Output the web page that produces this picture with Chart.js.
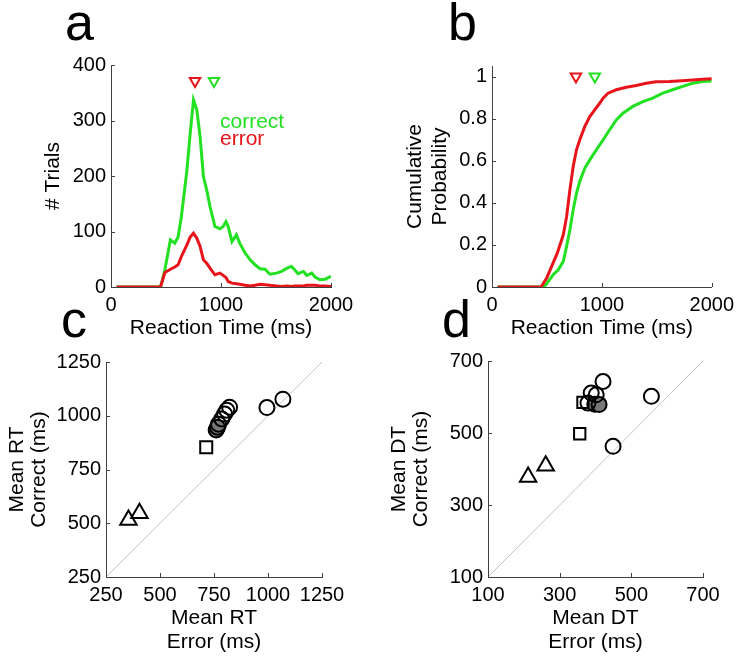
<!DOCTYPE html>
<html>
<head>
<meta charset="utf-8">
<script src="https://cdn.jsdelivr.net/npm/chart.js@4.4.1/dist/chart.umd.min.js"></script>
<style>
  body { margin: 0; background: #fff; }
  #fig { position: relative; width: 740px; height: 658px; overflow: hidden; font-family: 'Liberation Sans', Arial, sans-serif; }
  #fig canvas { position: absolute; }
  .panel { position: absolute; font-size: 52px; line-height: 52px; color: #000; }
  .key { position: absolute; font-size: 21px; line-height: 21px; }
</style>
</head>
<body>
<div id="fig">
  <canvas id="histChart" width="360" height="310" style="left:0;top:40px"></canvas>
  <canvas id="cdfChart" width="370" height="310" style="left:370px;top:40px"></canvas>
  <canvas id="rtChart" width="360" height="318" style="left:0;top:340px"></canvas>
  <canvas id="dtChart" width="370" height="318" style="left:370px;top:340px"></canvas>

  <div class="panel" style="left:65px;top:-4px">a</div>
  <div class="panel" style="left:448px;top:-4px">b</div>
  <div class="panel" style="left:61px;top:293px">c</div>
  <div class="panel" style="left:442px;top:293px">d</div>

  <div class="key" style="left:220px;top:110px;color:#22e022">correct</div>
  <div class="key" style="left:220px;top:127px;color:#e8141b">error</div>
</div>

<script>
// ---- values ----

// a: RT histogram (# trials per bin)
const histBins = [50, 100, 200, 300, 400, 450, 490, 540, 580, 610, 640, 690, 720, 750, 780, 810, 840, 870, 900, 945,
  990, 1020, 1045, 1065, 1100, 1140, 1170, 1220, 1265, 1310, 1355, 1400, 1445, 1505, 1550, 1600, 1640, 1670, 1700,
  1750, 1780, 1825, 1855, 1900, 1945, 2000];
const histCorrect = [0, 0, 0, 0, 0, 0, 31, 85, 79, 90, 127, 210, 277, 337, 319, 271, 199, 175, 145, 109,
  105, 109, 118, 109, 82, 94, 79, 61, 49, 40, 33, 32, 23, 25, 28, 34, 37, 31, 24,
  28, 21, 25, 18, 13, 14, 19];
const histError = [0, 0, 0, 0, 0, 0, 26, 32, 36, 40, 55, 76, 90, 97, 88, 73, 49, 43, 34, 22,
  25, 21, 17, 10, 7, 6, 5, 3, 2, 3, 5, 4, 3, 2, 1, 2, 1, 2, 2,
  2, 3, 3, 3, 2, 2, 1];

// b: cumulative probability
const cdfErrorRT = [50, 446, 498, 543, 594, 649, 679, 709, 739, 769, 799, 845, 890, 935, 980, 1011, 1056, 1131,
  1222, 1312, 1403, 1493, 1614, 1765, 1916, 2000];
const cdfErrorP = [0, 0, .043, .098, .161, .248, .335, .462, .573, .652, .70, .763, .81, .842, .873, .897, .921, .937,
  .949, .957, .968, .975, .976, .981, .987, .989];
const cdfCorrectRT = [50, 474, 513, 558, 603, 649, 679, 709, 739, 769, 799, 845, 890, 950, 1011, 1071, 1131, 1192,
  1282, 1373, 1463, 1554, 1644, 1735, 1825, 1916, 2000];
const cdfCorrectP = [0, 0, .027, .059, .082, .122, .193, .272, .367, .446, .502, .565, .604, .652, .699, .747, .794, .826,
  .858, .881, .897, .921, .937, .953, .968, .976, .979];

// median RT markers [error, correct]
const medianRT = [764, 936];

// c: mean RT, error (x) vs correct (y)
const rtTriErr = [354, 405];
const rtTriCor = [515, 546];
const rtSqErr = [714];
const rtSqCor = [854];
const rtCircErr = [995, 1069, 771, 786, 799, 809, 822];
const rtCircCor = [1038, 1077, 961, 985, 1008, 1026, 1040];
const rtGrayErr = [760, 766];
const rtGrayCor = [934, 947];

// d: mean DT, error (x) vs correct (y)
const dtTriErr = [212, 261];
const dtTriCor = [378, 409];
const dtSqErr = [356, 365];
const dtSqCor = [498, 585];
const dtCircErr = [449, 556, 421, 388, 402, 379];
const dtCircCor = [463, 602, 643, 611, 606, 583];
const dtGrayErr = [398, 410];
const dtGrayCor = [580, 579];

// ---- styling ----
const RED = '#e8141b';
const GREEN = '#22e022';
const axisColor = '#404040';

Chart.defaults.font.family = "'Liberation Sans', Arial, sans-serif";
Chart.defaults.color = '#000';

const pts = (xs, ys) => xs.map((x, i) => ({ x: x, y: ys[i] }));

// plain tick labels: 2000 not 2,000, 1 not 1.0
const plainTick = v => String(Math.round(v * 1000) / 1000);

// MATLAB style tick marks pointing into the plot
const inwardTicks = {
  id: 'inwardTicks',
  afterDatasetsDraw(chart) {
    const { ctx, chartArea: a, scales } = chart;
    ctx.save();
    ctx.strokeStyle = axisColor;
    ctx.lineWidth = 1;
    ctx.beginPath();
    scales.x.ticks.forEach(t => {
      const px = Math.round(scales.x.getPixelForValue(t.value)) + 0.5;
      ctx.moveTo(px, a.bottom);
      ctx.lineTo(px, a.bottom - 4);
    });
    scales.y.ticks.forEach(t => {
      const py = Math.round(scales.y.getPixelForValue(t.value)) + 0.5;
      ctx.moveTo(a.left, py);
      ctx.lineTo(a.left + 4, py);
    });
    ctx.stroke();
    ctx.restore();
  }
};

function xAxis(min, max, step, title, height, titlePad, lineH) {
  return {
    type: 'linear', min: min, max: max,
    ticks: { stepSize: step, padding: 6, font: { size: 20 }, includeBounds: false, maxRotation: 0, autoSkip: false, callback: plainTick },
    grid: { drawOnChartArea: false, drawTicks: false },
    border: { color: axisColor, width: 1 },
    title: { display: true, text: title, font: { size: 21, lineHeight: lineH + 'px' }, padding: { top: 0, bottom: titlePad } },
    afterFit: s => { s.height = height; }
  };
}

function yAxis(min, max, step, title, width, titlePad, lineH) {
  return {
    type: 'linear', min: min, max: max,
    ticks: { stepSize: step, padding: 5, font: { size: 20 }, includeBounds: false, autoSkip: false, callback: plainTick },
    grid: { drawOnChartArea: false, drawTicks: false },
    border: { color: axisColor, width: 1 },
    title: { display: true, text: title, font: { size: 21, lineHeight: lineH + 'px' }, padding: { top: titlePad, bottom: 0 } },
    afterFit: s => { s.width = width; }
  };
}

function baseOptions(padding, scales) {
  return {
    responsive: false,
    animation: false,
    devicePixelRatio: 1,
    layout: { padding: padding, autoPadding: false },
    plugins: { legend: { display: false }, tooltip: { enabled: false } },
    scales: scales
  };
}

function curve(data, color) {
  return { data: data, showLine: true, borderColor: color, borderWidth: 3, pointRadius: 0, tension: 0, fill: false };
}

function medianMarker(x, y, color) {
  return {
    data: [{ x: x, y: y }], pointStyle: 'triangle', rotation: 180, pointRadius: 6,
    pointBorderColor: color, pointBackgroundColor: 'rgba(0,0,0,0)', pointBorderWidth: 2
  };
}

function markers(data, style, radius, fill) {
  return {
    data: data, pointStyle: style, pointRadius: radius, pointBorderColor: '#000',
    pointBackgroundColor: fill || 'rgba(0,0,0,0)', pointBorderWidth: 2
  };
}

function diagonal(lo, hi) {
  return { data: [{ x: lo, y: lo }, { x: hi, y: hi }], showLine: true, borderColor: '#c4c4c4', borderWidth: 1, pointRadius: 0 };
}

// a: histogram
new Chart('histChart', {
  type: 'scatter',
  data: {
    datasets: [
      medianMarker(medianRT[0], 371, RED),
      medianMarker(medianRT[1], 371, GREEN),
      curve(pts(histBins, histError), RED),
      curve(pts(histBins, histCorrect), GREEN)
    ]
  },
  options: baseOptions({ top: 25, right: 29, left: 0, bottom: 0 }, {
    x: xAxis(0, 2000, 1000, 'Reaction Time (ms)', 63, 9.5, 25),
    y: yAxis(0, 400, 100, '# Trials', 111, 40.5, 25)
  }),
  plugins: [inwardTicks]
});

// b: cumulative distributions
new Chart('cdfChart', {
  type: 'scatter',
  data: {
    datasets: [
      medianMarker(medianRT[0], 1.0, RED),
      medianMarker(medianRT[1], 1.0, GREEN),
      curve(pts(cdfErrorRT, cdfErrorP), RED),
      curve(pts(cdfCorrectRT, cdfCorrectP), GREEN)
    ]
  },
  options: baseOptions({ top: 26, right: 27, left: 0, bottom: 0 }, {
    x: xAxis(0, 2000, 1000, 'Reaction Time (ms)', 63, 9.5, 25),
    y: yAxis(0, 1.05, 0.2, ['Cumulative', 'Probability'], 122, 32.5, 25)
  }),
  plugins: [inwardTicks]
});

// c: mean RT error vs correct
new Chart('rtChart', {
  type: 'scatter',
  data: {
    datasets: [
      markers(pts(rtTriErr, rtTriCor), 'triangle', 9.5),
      markers(pts(rtSqErr, rtSqCor), 'rect', 8.5),
      markers(pts(rtCircErr, rtCircCor), 'circle', 7.5),
      markers(pts(rtGrayErr, rtGrayCor), 'circle', 7.5, '#777777'),
      diagonal(250, 1250)
    ]
  },
  options: baseOptions({ top: 22, right: 38, left: 0, bottom: 0 }, {
    x: xAxis(250, 1250, 250, ['Mean RT', 'Error (ms)'], 81, 4, 24),
    y: yAxis(250, 1250, 250, ['Mean RT', 'Correct (ms)'], 106, 6, 22)
  }),
  plugins: [inwardTicks]
});

// d: mean DT error vs correct
new Chart('dtChart', {
  type: 'scatter',
  data: {
    datasets: [
      markers(pts(dtTriErr, dtTriCor), 'triangle', 9.5),
      markers(pts(dtSqErr, dtSqCor), 'rect', 8),
      markers(pts(dtCircErr, dtCircCor), 'circle', 7.5),
      markers(pts(dtGrayErr, dtGrayCor), 'circle', 7.5, '#777777'),
      diagonal(100, 700)
    ]
  },
  options: baseOptions({ top: 21, right: 37, left: 0, bottom: 0 }, {
    x: xAxis(100, 700, 200, ['Mean DT', 'Error (ms)'], 81, 4, 24),
    y: yAxis(100, 700, 200, ['Mean DT', 'Correct (ms)'], 118, 18, 22)
  }),
  plugins: [inwardTicks]
});
</script>
</body>
</html>
